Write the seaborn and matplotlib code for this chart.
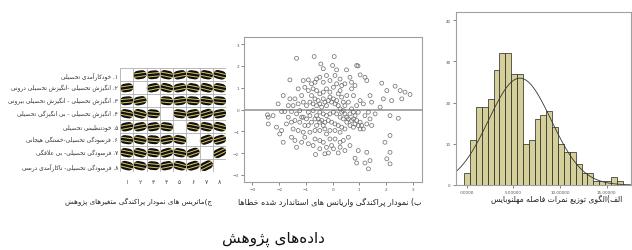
import numpy as np
import matplotlib
matplotlib.use("Agg")
import matplotlib.pyplot as plt
import seaborn as sns

sns.set_style("white")
plt.rcParams['font.family'] = ['DejaVu Sans']

# ---- data ----

# (alef) histogram of Mahalanobis distance scores
hist_start = -0.26
hist_width = 0.628
hist_counts = [3, 11, 19, 19, 21, 28, 32, 32, 27, 27, 10, 11, 16, 17, 18, 14,
               10, 8, 8, 5, 3, 3, 1, 1, 1, 2, 1]
norm_mean = 5.7
norm_sd = 3.36
hist_xticks = [0, 5, 10, 15]
hist_xlabels = [".00000", "5.00000", "10.00000", "15.00000"]
hist_yticks = [0, 10, 20, 30, 40]

# (be) standardized residuals scatter
resid_x = [
    -1.35, -0.69, 0.06, -0.44, -0.35, 0.00, 0.15, 0.52, 0.90, 0.95,
    -0.91, -1.60, -1.10, -0.60, -0.48, -0.23, 0.09, 1.03, 1.21, 1.28,
    1.84, 2.03, 2.34, 2.53, 2.71, 2.90, 2.59, 2.21, 1.90, 1.78,
    1.40, 1.46, 2.15, 2.46, 1.96, 2.15, 2.15, 2.03, 2.15, 1.40,
    1.28, 1.34, 1.21, 0.96, 0.84, 0.90, 0.21, 0.28, 0.03, -0.16,
    -0.29, -0.64, -0.73, -0.48, -0.35, -0.23, -1.35, -1.16, -1.41, -1.85,
    -1.98, -1.91, -2.10, -2.41, -2.41, -2.44, -2.04, -1.85, -1.91, -1.66,
    -1.73, -1.54, -1.48, -1.29, -1.10, -1.04, -1.35, -1.23, -1.48, -1.41,
    -1.16, -1.29, -1.04, -0.91, -0.79, -0.73, -0.60, -1.66, -0.98, -0.85,
    -0.73, -0.85, -0.79, -0.60, -0.66, -0.48, -0.29, -0.10, 0.09, 0.28,
    0.09, 0.40, 0.59, 0.78, 1.03, 1.15, 1.21, 1.34, 1.15, 1.03,
    0.78, 0.71, 0.84, 0.46, 0.34, 0.28, 0.53, 0.59, 0.90, 0.96,
    0.78, 0.53, 0.65, 0.84, 0.96,
    -0.66, -0.54, -0.48, -0.41, -0.35, -0.29, -0.23, -0.16, -0.10, -0.04,
    0.03, 0.09, 0.15, 0.21, 0.28, 0.34, 0.40, 0.46, 0.53, 0.59,
    0.40, 0.28, 0.15, 0.03, -0.10, -0.23, -0.35, -0.48, -0.60, -0.54,
    -0.41, -0.29, -0.16, -0.04, 0.09, 0.21, 0.34, 0.46, -0.35, -0.48,
    -0.66, -0.98, -1.10, -0.91, -0.60, -0.73, -0.48, -0.35, -0.23, -0.10,
    0.03, 0.15, 0.21, 0.34, 0.40, 0.46, 0.71, 0.78, 0.84, 0.65,
    0.71, 0.90, 1.03, 1.09, 1.28, 1.40, 1.59, 1.46, -0.79, -0.66,
    -0.35, -0.10, 0.28, 0.65, 0.71, -1.60, -1.79, -2.23, -1.54, -1.29,
    -1.10, -1.16, -1.23, -1.41, -0.91, -0.85, -1.04, -1.54, -0.66, -0.10,
    -0.04, 0.28, 0.65, 0.46, -0.23, -0.48, -0.91,
]
resid_y = [
    2.35, 2.43, 2.43, 2.09, 1.87, 2.02, 1.82, 1.82, 2.02, 2.00,
    1.36, 1.36, 1.33, 1.40, 1.48, 1.56, 1.56, 1.59, 1.48, 1.33,
    1.21, 0.87, 1.07, 0.87, 0.80, 0.69, 0.49, 0.41, 0.49, 0.11,
    0.64, 0.34, -0.28, -0.40, -1.50, -1.19, -1.96, -2.26, -2.49, -2.34,
    -1.96, -2.72, -2.45, -1.88, -2.23, -2.45, -1.99, -1.73, -1.80, -1.99,
    -2.03, -2.06, -1.65, -1.42, -1.50, -1.12, -1.73, -1.50, -1.42, -1.50,
    -1.12, -0.96, -0.81, -0.66, -0.35, -0.24, 0.26, 0.64, -0.09, -0.35,
    -0.66, -0.58, -0.89, -0.96, -1.04, -0.73, -0.20, -0.05, 0.18, 0.49,
    0.64, 0.95, 1.02, 0.87, 0.64, 0.95, 0.87, 0.18, 0.18, 0.34,
    -0.05, -0.28, -0.58, -0.73, -0.96, -0.96, -0.89, -0.96, -0.96, -1.04,
    -1.35, -1.42, -1.27, -0.81, -0.89, -0.89, -0.28, -0.12, 0.26, 0.41,
    0.64, 0.95, 1.10, 1.18, 1.10, 0.87, 0.64, 0.34, 0.18, -0.12,
    -0.43, -0.58, -0.73, -0.66, -0.73,
    0.49, 0.41, 0.26, 0.11, 0.49, 0.34, 0.18, 0.41, 0.57, 0.34,
    0.49, 0.26, 0.41, 0.18, 0.03, -0.12, -0.05, -0.20, -0.35, -0.43,
    -0.43, -0.35, -0.20, -0.12, -0.20, -0.28, -0.20, -0.12, -0.28, -0.43,
    -0.50, -0.58, -0.50, -0.58, -0.66, -0.73, -0.81, -0.89, -0.73, -0.58,
    -0.43, -0.43, -0.35, -0.12, 0.18, 0.26, 0.72, 0.80, 0.95, 0.80,
    1.02, 1.18, 0.72, 0.57, 0.34, 0.18, 0.03, -0.12, -0.28, -0.20,
    -0.50, -0.50, -0.58, -0.73, -0.66, -0.43, -0.20, -0.73, 1.18, 1.25,
    1.25, 1.33, 1.40, 1.48, 1.25, 0.49, -0.09, -0.28, -0.09, 0.26,
    0.34, -0.35, -0.58, -0.50, -0.73, -1.04, -1.27, -1.27, -1.35, -1.35,
    -1.65, -1.50, -1.65, -1.88, -1.73, -1.80, -1.57,
]
resid_ticks = [-3, -2, -1, 0, 1, 2, 3]

# (jim) scatter matrix of the research variables
var_labels = [
    "۱. خودکارآمدی تحصیلی",
    "۲. انگیزش تحصیلی -انگیزش تحصیلی درونی",
    "۳. انگیزش تحصیلی - انگیزش تحصیلی بیرونی",
    "۴. انگیزش تحصیلی - بی انگیزگی تحصیلی",
    "۵. خودتنظیمی تحصیلی",
    "۶. فرسودگی تحصیلی-خستگی هیجانی",
    "۷. فرسودگی تحصیلی- بی علاقگی",
    "۸. فرسودگی تحصیلی- ناکارآمدی درسی",
]
col_labels = ["۱", "۲", "۳", "۴", "۵", "۶", "۷", "۸"]
# tilt of the point cloud in each cell (0 on the empty diagonal)
cell_slope = [
    [0, 0.15, 0.10, -0.20, 0.20, -0.15, -0.20, -0.25],
    [0.15, 0, 0.20, -0.25, 0.20, -0.20, -0.25, -0.20],
    [0.10, 0.20, 0, -0.10, 0.15, -0.10, -0.15, -0.10],
    [-0.20, -0.25, -0.10, 0, -0.15, 0.20, 0.30, 0.20],
    [0.20, 0.20, 0.15, -0.15, 0, -0.20, -0.20, -0.25],
    [-0.15, -0.20, -0.10, 0.20, -0.20, 0, 0.35, 0.30],
    [-0.20, -0.25, -0.15, 0.30, -0.20, 0.35, 0, 0.50],
    [-0.25, -0.20, -0.10, 0.20, -0.25, 0.30, 0.50, 0],
]

captions = [
    "ج)ماتریس های نمودار پراکندگی متغیرهای پژوهش",
    "ب) نمودار پراکندگی واریانس های استاندارد شده خطاها",
    "الف)الگوی توزیع نمرات فاصله مهلنوبایس",
]
title = "داده\u200cهای پژوهش"

# ---- simple Persian shaping (matplotlib has no complex text layout) ----
AR = {'ء': (0xFE80, 1), 'آ': (0xFE81, 2), 'أ': (0xFE83, 2), 'ا': (0xFE8D, 2),
      'ب': (0xFE8F, 4), 'ة': (0xFE93, 2), 'ت': (0xFE95, 4), 'ث': (0xFE99, 4),
      'ج': (0xFE9D, 4), 'ح': (0xFEA1, 4), 'خ': (0xFEA5, 4), 'د': (0xFEA9, 2),
      'ذ': (0xFEAB, 2), 'ر': (0xFEAD, 2), 'ز': (0xFEAF, 2), 'س': (0xFEB1, 4),
      'ش': (0xFEB5, 4), 'ص': (0xFEB9, 4), 'ض': (0xFEBD, 4), 'ط': (0xFEC1, 4),
      'ظ': (0xFEC5, 4), 'ع': (0xFEC9, 4), 'غ': (0xFECD, 4), 'ف': (0xFED1, 4),
      'ق': (0xFED5, 4), 'ل': (0xFEDD, 4), 'م': (0xFEE1, 4), 'ن': (0xFEE5, 4),
      'ه': (0xFEE9, 4), 'و': (0xFEED, 2), 'پ': (0xFB56, 4), 'چ': (0xFB7A, 4),
      'ژ': (0xFB8A, 2), 'ک': (0xFB8E, 4), 'گ': (0xFB92, 4), 'ی': (0xFBFC, 4)}


def fa(text):
    out = []
    n = len(text)
    i = 0
    while i < n:
        c = text[i]
        if c not in AR:
            if c != '\u200c':
                out.append(c)
            i += 1
            continue
        prev = text[i - 1] if i > 0 else ''
        joins_prev = prev in AR and AR[prev][1] == 4
        if c == 'ل' and i + 1 < n and text[i + 1] in 'اآ':
            base = 0xFEFB if text[i + 1] == 'ا' else 0xFEF5
            out.append(chr(base + (1 if joins_prev else 0)))
            i += 2
            continue
        code, nf = AR[c]
        nxt = text[i + 1] if i + 1 < n else ''
        joins_next = nf == 4 and nxt in AR and AR[nxt][1] >= 2
        if nf == 1:
            form = 0
        elif joins_prev and joins_next:
            form = 3
        elif joins_prev:
            form = 1
        elif joins_next:
            form = 2
        else:
            form = 0
        out.append(chr(code + form))
        i += 1
    mirror = {'(': ')', ')': '('}
    return ''.join(mirror.get(ch, ch) for ch in reversed(out))


fig = plt.figure(figsize=(6.32, 2.51), dpi=100)
fig.patch.set_facecolor("white")
frame_col = "#a0a0a0"
tick_col = "#555555"

# ---- right: histogram ----
ax3 = fig.add_axes([0.721, 0.259, 0.2774, 0.689])
edges = [hist_start + hist_width * k for k in range(len(hist_counts) + 1)]
centers = [hist_start + hist_width * (k + 0.5) for k in range(len(hist_counts))]
sns.histplot(x=centers, weights=hist_counts, bins=edges, color="#d5cf9a",
             edgecolor="#222222", linewidth=0.5, alpha=1, ax=ax3)
xs = np.linspace(-1.18, 17.6, 200)
scale = sum(hist_counts) * hist_width / (norm_sd * np.sqrt(2 * np.pi))
sns.lineplot(x=xs, y=scale * np.exp(-0.5 * ((xs - norm_mean) / norm_sd) ** 2),
             color="#333333", linewidth=0.6, ax=ax3)
ax3.set_xlim(-1.18, 17.6)
ax3.set_ylim(0, 42)
ax3.set_xticks(hist_xticks)
ax3.set_xticklabels(hist_xlabels)
ax3.set_yticks(hist_yticks)
ax3.set_xlabel("")
ax3.set_ylabel("")

# ---- middle: residual scatter ----
ax2 = fig.add_axes([0.386, 0.271, 0.281, 0.578])
ax2.axhline(0, color="#9a9a9a", linewidth=1.2, zorder=1)
sns.scatterplot(x=resid_x, y=resid_y, marker="o", s=8, facecolor="none",
                edgecolor="#6a6a6a", linewidth=0.5, ax=ax2, zorder=2)
ax2.set_xlim(-3.32, 3.33)
ax2.set_ylim(-3.32, 3.33)
ax2.set_xticks(resid_ticks)
ax2.set_yticks(resid_ticks)

for ax in (ax2, ax3):
    for sp in ax.spines.values():
        sp.set_color(frame_col)
        sp.set_linewidth(0.8)
    ax.tick_params(axis="both", labelsize=3, colors=tick_col, length=2,
                   width=0.5, pad=1.5, direction="out", bottom=True, left=True)

# ---- left: scatter matrix ----
ax1 = fig.add_axes([0.190, 0.310, 0.168, 0.414])
ax1.set_xlim(0, 8)
ax1.set_ylim(8, 0)
ax1.axis("off")
for i in range(8):
    for j in range(8):
        if i == j:
            continue
        s = cell_slope[i][j]
        cx, cy = j + 0.5, i + 0.5
        bx = np.array([cx - 0.17, cx + 0.17])
        ax1.plot(bx, cy - s * (bx - cx), color="#111111", linewidth=6.2,
                 solid_capstyle="round")
        lx = np.array([cx - 0.44, cx + 0.44])
        for off in (-0.13, 0.13):
            ax1.plot(lx, cy + off - s * (lx - cx), color="#dcc85c",
                     linewidth=0.7)
for k in range(9):
    ax1.plot([0, 8], [k, k], color="#b0b0b0", linewidth=0.6)
    ax1.plot([k, k], [0, 8], color="#b0b0b0", linewidth=0.6)
for i, lab in enumerate(var_labels):
    ax1.text(-0.15, i + 0.5, fa(lab), ha="right", va="center", fontsize=4.2,
             color="#333333")
for j, lab in enumerate(col_labels):
    ax1.text(j + 0.5, 8.7, lab, ha="center", va="center", fontsize=4.3,
             color="#444444")

# ---- captions ----
fig.text(0.219, 0.195, fa(captions[0]), ha="center", va="center",
         fontsize=5.1, color="#222222")
fig.text(0.522, 0.191, fa(captions[1]), ha="center", va="center",
         fontsize=5.8, color="#222222")
fig.text(0.777, 0.203, fa(captions[2]), ha="left", va="center",
         fontsize=5.5, color="#222222")
fig.text(0.432, 0.046, fa(title), ha="center", va="center",
         fontsize=11, color="#111111")

fig.savefig("out.png", dpi=100)
